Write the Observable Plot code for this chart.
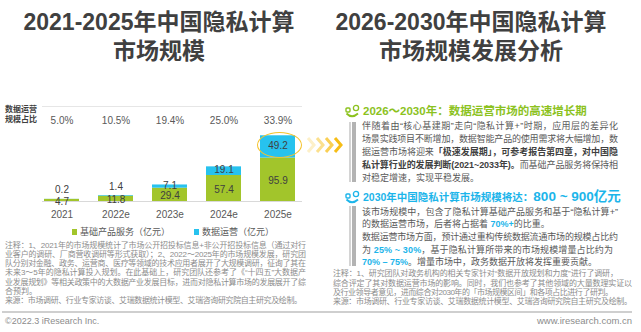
<!DOCTYPE html>
<html><head><meta charset="utf-8">
<script src="https://cdn.jsdelivr.net/npm/d3@7"></script>
<script src="https://cdn.jsdelivr.net/npm/@observablehq/plot@0.6"></script>
<style>
html,body{margin:0;padding:0;background:#fff;}
body{width:641px;height:332px;overflow:hidden;position:relative;font-family:"Liberation Sans","Noto Sans CJK SC",sans-serif;color:#595959;}
.a{position:absolute;white-space:nowrap;}
.title{font-family:"Liberation Sans","Noto Sans CJK SC",sans-serif;font-weight:700;font-size:23px;color:#404040;text-align:center;line-height:29px;width:330px;}
.ln{position:absolute;white-space:nowrap;display:inline-block;line-height:1;transform:translateY(-50%);}
.p{font-size:9px;color:#595959;}
.note{font-size:8px;color:#8c8c8c;}
.b{font-weight:700;color:#404040;}
.bl{font-weight:700;color:#1cb5ea;}
.vbar{position:absolute;width:7px;background:linear-gradient(to right,#d4d4d4 0,#d4d4d4 2px,#fff 2px,#fff 3px,#b3b3b3 3px,#b3b3b3 7px);}
</style></head>
<body>
<div class="a title" style="left:-6px;top:8px;">2021-2025年中国隐私计算<br>市场规模</div>
<div class="a title" style="left:306px;top:8px;">2026-2030年中国隐私计算<br>市场规模发展分析</div>

<div class="a" style="left:42px;top:106px;width:260px;height:1px;background:#e6e6e6;"></div>
<div class="ln" style="left:5px;top:109.5px;font-size:8px;font-weight:700;color:#404040;">数据运营</div>
<div class="ln" style="left:5px;top:119.5px;font-size:8px;font-weight:700;color:#404040;">规模占比</div>

<div id="chart" class="a" style="left:0;top:100px;"></div>
<div id="ellipse" class="a" style="border:1.6px solid #f5c32c;border-radius:50%;box-sizing:border-box;"></div>
<div id="legend"></div>

<svg class="a" style="left:306px;top:136px;" width="42" height="18">
  <polyline points="2,2 8,9 2,16" fill="none" stroke="#fdf0c8" stroke-width="3"/>
  <polyline points="11,2 17,9 11,16" fill="none" stroke="#fbe08e" stroke-width="3"/>
  <polyline points="20,2 26,9 20,16" fill="none" stroke="#f9cf55" stroke-width="3"/>
  <polyline points="29,2 35,9 29,16" fill="none" stroke="#f6bd16" stroke-width="3"/>
</svg>

<!-- panel 1 -->
<svg class="a" style="left:345px;top:104px;" width="16" height="14">
  <rect x="1" y="4" width="4" height="4" rx="1" fill="none" stroke="#8cc21e" stroke-width="1.4"/>
  <circle cx="11" cy="4" r="2.6" fill="none" stroke="#8cc21e" stroke-width="1.3"/>
  <path d="M1.5 9.5 Q7 15 13 9.5" fill="none" stroke="#8cc21e" stroke-width="1.8"/>
</svg>
<div class="ln" style="left:363px;top:112px;font-size:11.5px;font-weight:700;color:#8cc21e;">2026～2030年：数据运营市场的高速增长期</div>
<div class="vbar" style="left:349px;top:122px;height:60px;"></div>
<div class="ln p fit" data-w="256" style="left:362px;top:125.5px;">伴随着由“核心基建期”走向“隐私计算+”时期，应用层的差异化</div>
<div class="ln p fit" data-w="256" style="left:362px;top:138.6px;">场景实践项目不断增加，数据智能产品的使用需求将大幅增加，数</div>
<div class="ln p fit" data-w="256" style="left:362px;top:151.7px;">据运营市场将迎来<span class="b">「极速发展期」，可参考报告第四章，对中国隐</span></div>
<div class="ln p fit" data-w="256" style="left:362px;top:164.8px;"><span class="b">私计算行业的发展判断(2021~2033年)。</span>而基础产品服务将保持相</div>
<div class="ln p" style="left:362px;top:177.9px;">对稳定增速，实现平稳发展。</div>

<!-- panel 2 -->
<svg class="a" style="left:345px;top:190px;" width="16" height="14">
  <rect x="1" y="4" width="4" height="4" rx="1" fill="none" stroke="#1cb5ea" stroke-width="1.4"/>
  <circle cx="11" cy="4" r="2.6" fill="none" stroke="#1cb5ea" stroke-width="1.3"/>
  <path d="M1.5 9.5 Q7 15 13 9.5" fill="none" stroke="#1cb5ea" stroke-width="1.8"/>
</svg>
<div class="ln" style="left:363px;top:197px;font-weight:700;color:#1cb5ea;font-size:10.5px;">2030年中国隐私计算市场规模将达：<span style="font-size:13.5px;">800 ~ 900亿元</span></div>
<div class="vbar" style="left:349px;top:206px;height:60px;"></div>
<div class="ln p fit" data-w="256" style="left:362px;top:211.5px;">该市场规模中，包含了隐私计算基础产品服务和基于“隐私计算+”</div>
<div class="ln p" style="left:362px;top:224.2px;">的数据运营市场，后者将占据着 <span class="bl">70%+</span>的比重。</div>
<div class="ln p fit" data-w="256" style="left:362px;top:236.9px;">数据运营市场方面，预计通过重构传统数据流通市场的规模占比约</div>
<div class="ln p fit" data-w="251" style="left:362px;top:249.6px;">为 <span class="bl">25% ~ 30%</span>，基于隐私计算所带来的市场规模增量占比约为</div>
<div class="ln p" style="left:362px;top:262.3px;"><span class="bl">70% – 75%</span>。增量市场中，政务数据开放将发挥重要贡献。</div>

<div class="ln note fit" data-w="285" style="left:333px;top:274.3px;">注释：1、研究团队对政务机构的相关专家针对“数据开放规划和力度”进行了调研，</div>
<div class="ln note fit" data-w="299" style="left:333px;top:283.5px;">综合评定了其对数据运营市场的影响。同时，我们也参考了其他领域的大量数理实证以</div>
<div class="ln note fit" data-w="280" style="left:333px;top:292.7px;">及行业领导者意见，进而综合对2030年的「市场规模区间」和各项占比进行了研判。</div>
<div class="ln note fit" data-w="299" style="left:333px;top:301.9px;">来源：市场调研、行业专家访谈、艾瑞数据统计模型、艾瑞咨询研究院自主研究及绘制。</div>

<!-- left notes -->
<div class="ln note fit" data-w="301" style="left:5px;top:245.7px;">注释：1、2021年的市场规模统计了市场公开招投标信息+非公开招投标信息（通过对行</div>
<div class="ln note fit" data-w="301" style="left:5px;top:254.9px;">业客户的调研、厂商营收调研等形式获取）；2、2022～2025年的市场规模发展，研究团</div>
<div class="ln note fit" data-w="301" style="left:5px;top:264.1px;">队分别对金融、政务、运营商、医疗等领域的技术应用者展开了大规模调研，征询了其在</div>
<div class="ln note fit" data-w="301" style="left:5px;top:273.3px;">未来3～5年的隐私计算投入规划。在此基础上，研究团队还参考了《“十四五”大数据产</div>
<div class="ln note fit" data-w="301" style="left:5px;top:282.5px;">业发展规划》等相关政策中的大数据产业发展目标，进而对隐私计算市场的发展展开了综</div>
<div class="ln note" style="left:5px;top:291.7px;">合预判。</div>
<div class="ln note fit" data-w="297" style="left:5px;top:300.9px;">来源：市场调研、行业专家访谈、艾瑞数据统计模型、艾瑞咨询研究院自主研究及绘制。</div>

<div class="a" style="left:2px;top:310.5px;width:630px;height:2px;background:#cfcfcf;"></div>
<div class="ln" style="left:5px;top:321px;font-size:9px;color:#8c8c8c;">©2022.3 iResearch Inc.</div>
<div class="ln" style="right:9px;top:321px;font-size:9.5px;color:#8c8c8c;">www.iresearch.com.cn</div>

<script>
const years = ["2021", "2022e", "2023e", "2024e", "2025e"];
const basicService = [4.7, 11.8, 29.4, 57.4, 95.9];
const dataOperation = [0.2, 1.4, 7.1, 19.1, 49.2];
const opsShare = ["5.0%", "10.5%", "19.4%", "25.0%", "33.9%"];
const seriesNames = ["基础产品服务（亿元）", "数据运营（亿元）"];
const seriesColors = ["#a2c52b", "#27c2ee"];
const highlightYear = "2025e";

const rows = years.flatMap((y, i) => [
  {year: y, series: seriesNames[0], value: basicService[i]},
  {year: y, series: seriesNames[1], value: dataOperation[i]}
]);
const totals = years.map((y, i) => ({
  year: y, ops: dataOperation[i], total: basicService[i] + dataOperation[i], share: opsShare[i]
}));

const chart = Plot.plot({
  width: 320, height: 125,
  marginTop: 0, marginBottom: 24, marginLeft: 23, marginRight: 3,
  style: {fontFamily: "Liberation Sans, Noto Sans CJK SC, sans-serif", fontSize: "10px", color: "#595959", background: "none", overflow: "visible"},
  x: {domain: years, padding: 0.35, tickSize: 0, tickPadding: 9, label: null},
  y: {domain: [0, 223], axis: null},
  color: {domain: seriesNames, range: seriesColors},
  marks: [
    Plot.barY(rows, {x: "year", y: "value", fill: "series"}),
    Plot.ruleY([0], {stroke: "#d9d9d9", insetLeft: 19, insetRight: 15}),
    // labels of the base-service segments (mid of segment)
    Plot.text(rows, Plot.stackY({
      x: "year", y: "value",
      text: d => d.series === seriesNames[0] ? d.value.toFixed(1) : null,
      fill: "#404040", fontSize: 10, dy: 1
    })),
    // labels of large data-operation segments (mid of segment)
    Plot.text(rows, Plot.stackY({
      x: "year", y: "value",
      text: d => d.series === seriesNames[1] && d.value >= 5 ? d.value.toFixed(1) : null,
      fill: "#404040", fontSize: 10, dy: -1
    })),
    // small data-operation values above the bar
    Plot.text(totals.filter(d => d.ops < 5), {x: "year", y: "total", text: d => d.ops.toFixed(1), dy: -9, fill: "#404040", fontSize: 10}),
    Plot.text(totals, {x: "year", text: "share", frameAnchor: "top", dy: 16, fill: "#595959", fontSize: 10})
  ]
});
document.getElementById("chart").appendChild(chart);

// highlight ellipse around the 2025e data-operation segment
const sx = chart.scale("x"), sy = chart.scale("y");
const hi = years.indexOf(highlightYear);
const cx = sx.apply(highlightYear) + sx.bandwidth / 2;
const cy = sy.apply(basicService[hi] + dataOperation[hi] / 2) + 100;
const rx = 22.5, ry = 13;
Object.assign(document.getElementById("ellipse").style, {
  left: (cx - rx + 1.5) + "px", top: (cy - ry - 1) + "px", width: (2 * rx) + "px", height: (2 * ry) + "px"
});

// legend
const legend = document.getElementById("legend");
const legendX = [72, 194];
seriesNames.forEach((name, i) => {
  const sw = document.createElement("div");
  sw.className = "a";
  Object.assign(sw.style, {left: legendX[i] + "px", top: "229px", width: "5px", height: "6px", background: seriesColors[i]});
  legend.appendChild(sw);
  const t = document.createElement("div");
  t.className = "ln";
  Object.assign(t.style, {left: (legendX[i] + 8) + "px", top: "232.3px", fontSize: "9px", color: "#595959"});
  t.textContent = name;
  legend.appendChild(t);
});

function fit() {
  document.querySelectorAll(".fit").forEach(el => {
    el.style.letterSpacing = "0px";
    const w = el.getBoundingClientRect().width;
    const n = [...el.textContent].length;
    const target = +el.dataset.w;
    el.style.letterSpacing = ((target - w) / (n - 1)) + "px";
  });
}
fit();
if (document.fonts && document.fonts.ready) document.fonts.ready.then(fit);
</script>
</body></html>
